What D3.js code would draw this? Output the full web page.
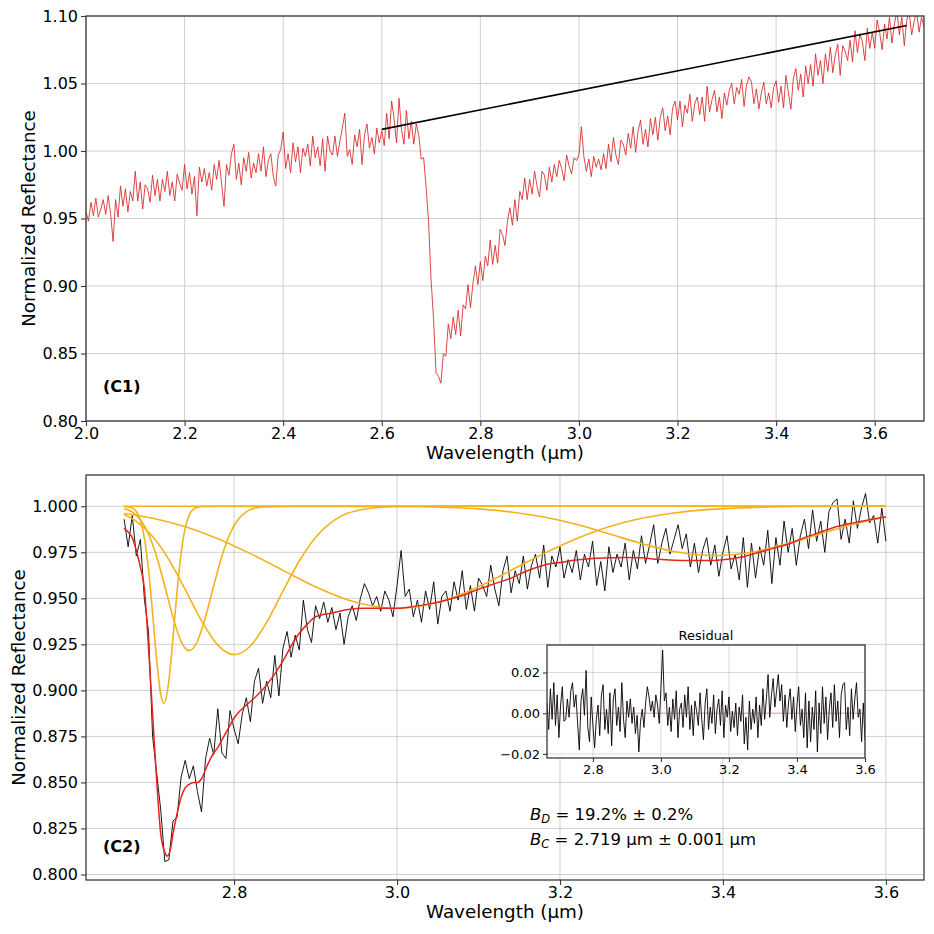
<!DOCTYPE html>
<html><head><meta charset="utf-8">
<script src="https://cdn.jsdelivr.net/npm/d3@7"></script>
<style>body{margin:0;background:#fff} text{font-family:"DejaVu Sans",sans-serif;fill:#000}</style>
</head><body>
<svg id="c" width="934" height="934"></svg>
<script>
// ---------------- DATA ----------------
// Panel C1: reflectance spectrum, sampled every 0.005 um from 2.000 to 3.700 um
const topStart = 2.0, topStep = 0.005;
const topRefl = [
0.955,0.948,0.962,0.952,0.965,0.951,0.957,0.964,0.953,0.967,
0.953,0.933,0.964,0.951,0.974,0.959,0.972,0.955,0.970,0.963,
0.985,0.963,0.977,0.957,0.975,0.972,0.962,0.982,0.967,0.979,
0.963,0.979,0.970,0.985,0.967,0.977,0.963,0.983,0.976,0.971,
0.990,0.972,0.984,0.968,0.981,0.952,0.988,0.977,0.987,0.974,
0.984,0.971,0.990,0.979,0.993,0.976,0.959,0.990,0.982,0.998,
1.005,0.979,0.991,0.975,0.995,0.985,0.999,0.980,0.991,0.984,
0.998,0.985,1.003,0.981,0.993,0.998,0.981,0.974,0.997,1.001,
1.014,0.987,0.998,0.984,1.006,0.992,1.003,0.984,1.002,0.996,
1.005,0.989,1.011,0.995,1.003,0.989,1.009,0.985,1.011,1.000,
0.997,1.011,0.996,1.007,1.017,1.028,0.996,1.001,0.990,1.012,
1.003,1.016,0.990,1.012,1.020,1.002,1.010,0.998,1.017,1.006,
1.015,1.004,1.028,1.009,1.037,1.024,1.006,1.039,1.016,1.005,
1.030,1.009,1.022,1.005,1.020,1.012,0.994,0.995,0.973,0.947,
0.905,0.876,0.836,0.833,0.828,0.850,0.848,0.872,0.861,0.877,
0.864,0.882,0.863,0.886,0.883,0.901,0.884,0.902,0.915,0.901,
0.918,0.904,0.922,0.915,0.934,0.916,0.930,0.917,0.942,0.938,
0.930,0.948,0.958,0.945,0.964,0.948,0.970,0.964,0.980,0.964,
0.979,0.968,0.985,0.974,0.966,0.985,0.982,0.971,0.988,0.977,
0.990,0.981,0.993,0.987,0.978,0.997,0.989,0.983,0.995,0.993,
0.997,1.018,0.996,0.985,0.994,0.981,0.996,0.988,0.994,0.986,
0.998,0.987,1.005,0.992,1.010,0.997,0.990,1.008,1.005,0.997,
1.013,1.002,1.018,0.999,1.015,1.023,1.005,1.016,1.003,1.024,
1.012,1.025,1.008,1.025,1.032,1.015,1.026,1.012,1.032,1.037,
1.023,1.037,1.018,1.034,1.028,1.042,1.022,1.035,1.040,1.027,
1.040,1.022,1.048,1.029,1.038,1.045,1.029,1.040,1.024,1.043,
1.034,1.045,1.050,1.035,1.047,1.042,1.053,1.033,1.049,1.055,
1.051,1.035,1.046,1.031,1.043,1.051,1.035,1.043,1.032,1.047,
1.052,1.036,1.048,1.032,1.056,1.043,1.031,1.054,1.061,1.045,
1.057,1.040,1.063,1.050,1.064,1.048,1.072,1.056,1.067,1.050,
1.072,1.059,1.077,1.058,1.071,1.079,1.056,1.078,1.074,1.067,
1.082,1.066,1.089,1.073,1.087,1.081,1.067,1.091,1.076,1.088,
1.076,1.097,1.088,1.075,1.094,1.083,1.099,1.080,1.094,1.104,
1.086,1.099,1.078,1.097,1.103,1.086,1.096,1.104,1.088,1.099,
1.092];
// Continuum (black line in C1)
const contWave = [2.600, 3.665];
const contRefl = [1.016, 1.093];

// Panel C2: continuum-removed spectrum, every 0.005 um from 2.665 to 3.600 um
const botStart = 2.665, botStep = 0.005;
const botRefl = [
0.993,0.978,0.995,0.973,0.982,0.949,0.932,0.875,0.855,0.835,
0.807,0.808,0.829,0.831,0.853,0.862,0.852,0.859,0.845,0.834,
0.863,0.874,0.865,0.890,0.866,0.863,0.889,0.879,0.871,0.887,
0.896,0.883,0.905,0.912,0.893,0.905,0.896,0.919,0.897,0.923,
0.932,0.918,0.930,0.922,0.949,0.933,0.926,0.946,0.939,0.948,
0.937,0.945,0.933,0.942,0.925,0.940,0.946,0.938,0.950,0.958,
0.953,0.946,0.951,0.943,0.954,0.949,0.940,0.957,0.976,0.951,
0.955,0.940,0.949,0.937,0.954,0.944,0.959,0.936,0.951,0.954,
0.943,0.959,0.949,0.965,0.944,0.957,0.943,0.961,0.957,0.951,
0.968,0.955,0.946,0.965,0.973,0.953,0.965,0.958,0.973,0.955,
0.968,0.974,0.961,0.979,0.956,0.973,0.967,0.978,0.961,0.971,
0.964,0.976,0.960,0.974,0.967,0.981,0.957,0.970,0.954,0.978,
0.964,0.974,0.967,0.980,0.960,0.976,0.966,0.984,0.969,0.979,
0.990,0.969,0.980,0.988,0.974,0.982,0.990,0.977,0.985,0.967,
0.980,0.964,0.976,0.983,0.968,0.979,0.962,0.975,0.984,0.966,
0.974,0.960,0.983,0.956,0.980,0.961,0.978,0.968,0.987,0.958,
0.983,0.968,0.992,0.975,0.988,0.968,0.984,0.993,0.977,0.998,
0.981,0.992,0.975,0.997,1.002,1.004,0.982,0.993,0.980,1.003,
0.988,0.999,1.007,0.991,0.995,0.980,0.999,0.981];
// Residual (inset), same wavelength grid as C2
const residual = [
0.005,-0.008,0.012,-0.003,0.015,-0.006,0.009,-0.012,0.004,0.013,
-0.004,-0.003,0.007,-0.002,0.011,0.015,0.003,0.009,-0.005,-0.018,
0.006,0.012,-0.001,0.021,-0.007,-0.014,0.008,-0.006,-0.017,-0.003,
0.004,-0.011,0.009,0.014,-0.008,0.002,-0.010,0.010,-0.016,0.007,
0.012,-0.006,0.003,-0.009,0.015,-0.003,-0.012,0.006,-0.002,0.007,
-0.005,0.003,-0.010,-0.001,-0.019,-0.004,0.002,-0.007,0.005,0.013,
0.008,0.001,0.006,-0.002,0.009,0.004,-0.005,0.012,0.031,0.006,
0.010,-0.006,0.003,-0.009,0.007,-0.003,0.011,-0.012,0.002,0.005,
-0.007,0.009,-0.002,0.013,-0.008,0.004,-0.011,0.006,0.001,-0.006,
0.010,-0.003,-0.013,0.005,0.012,-0.008,0.003,-0.005,0.009,-0.010,
0.002,0.007,-0.006,0.011,-0.012,0.004,-0.002,0.008,-0.009,0.001,
-0.007,0.005,-0.011,0.003,-0.004,0.009,-0.015,-0.002,-0.018,0.006,
-0.008,0.002,-0.005,0.008,-0.012,0.004,-0.006,0.012,-0.003,0.007,
0.019,-0.002,0.009,0.017,0.003,0.011,0.019,0.006,0.014,-0.004,
0.009,-0.007,0.005,0.012,-0.003,0.008,-0.009,0.004,0.013,-0.006,
0.002,-0.012,0.010,-0.017,0.006,-0.014,0.003,-0.008,0.011,-0.019,
0.005,-0.010,0.013,-0.005,0.008,-0.013,0.002,0.010,-0.007,0.014,
-0.004,0.006,-0.012,0.009,0.014,0.015,-0.008,0.003,-0.011,0.012,
-0.003,0.007,0.015,-0.002,0.002,-0.014,0.005,-0.013];

// Fitted model (red) in C2
const modelWave = [2.665,2.670,2.675,2.680,2.685,2.690,2.695,2.700,2.705,2.710,2.715,2.718,2.722,2.725,2.730,2.735,2.740,2.745,2.750,2.755,2.760,2.765,2.770,2.775,2.780,2.785,2.790,2.795,2.800,2.810,2.820,2.830,2.840,2.850,2.860,2.870,2.880,2.890,2.900,2.920,2.940,2.960,2.980,3.000,3.020,3.040,3.060,3.080,3.100,3.120,3.140,3.160,3.180,3.200,3.220,3.240,3.260,3.280,3.300,3.320,3.340,3.360,3.380,3.400,3.420,3.440,3.460,3.480,3.500,3.520,3.540,3.560,3.580,3.600];
const modelRefl = [0.988,0.986,0.983,0.976,0.967,0.955,0.923,0.887,0.851,0.822,0.812,0.810,0.814,0.822,0.833,0.842,0.847,0.849,0.850,0.850,0.852,0.857,0.862,0.866,0.869,0.873,0.877,0.881,0.885,0.890,0.894,0.898,0.903,0.909,0.916,0.924,0.931,0.936,0.940,0.942,0.944,0.9446,0.9446,0.9446,0.9455,0.947,0.949,0.9515,0.955,0.958,0.961,0.965,0.968,0.9695,0.9708,0.9716,0.972,0.9722,0.972,0.9712,0.9707,0.9705,0.9705,0.971,0.9722,0.9745,0.977,0.9795,0.983,0.986,0.989,0.991,0.9927,0.9942];

// Individual absorption bands (orange) in C2
const band1Wave = [2.665,2.675,2.680,2.685,2.690,2.695,2.700,2.705,2.710,2.7138,2.720,2.725,2.730,2.735,2.740,2.745,2.750,2.760,2.780,3.600];
const band1Refl = [1.000,0.9991,0.9972,0.9925,0.9826,0.9655,0.9418,0.9165,0.8978,0.893,0.9054,0.9284,0.9538,0.9746,0.9881,0.9952,0.9984,0.9999,1.000,1.000];
const band2Wave = [2.665,2.675,2.685,2.695,2.705,2.715,2.725,2.735,2.745,2.755,2.765,2.775,2.785,2.795,2.805,2.815,2.825,2.840,2.870,3.600];
const band2Refl = [0.9988,0.9969,0.9927,0.9849,0.9726,0.9566,0.9397,0.9265,0.9216,0.9267,0.9400,0.9569,0.9729,0.9851,0.9928,0.9970,0.9989,0.9998,1.000,1.000];
const band3Wave = [2.665,2.680,2.700,2.720,2.740,2.760,2.780,2.800,2.820,2.840,2.860,2.880,2.900,2.920,2.940,2.960,2.980,3.020,3.600];
const band3Refl = [0.9955,0.9918,0.9836,0.9710,0.9548,0.9378,0.9246,0.9194,0.9241,0.9370,0.9539,0.9703,0.9831,0.9915,0.9963,0.9985,0.9995,1.000,1.000];
const band4Wave = [2.665,2.700,2.740,2.780,2.820,2.860,2.900,2.940,2.970,3.000,3.030,3.060,3.100,3.140,3.180,3.220,3.260,3.300,3.340,3.380,3.440,3.500,3.600];
const band4Refl = [0.9961,0.9935,0.9889,0.9824,0.9743,0.9652,0.9563,0.9491,0.9458,0.9446,0.9458,0.9491,0.9563,0.9652,0.9743,0.9824,0.9889,0.9935,0.9964,0.9982,0.9994,0.9999,1.000];
const band5Wave = [2.665,3.000,3.060,3.100,3.140,3.180,3.220,3.260,3.300,3.340,3.390,3.440,3.480,3.520,3.560,3.600];
const band5Refl = [1.000,0.9999,0.9994,0.9986,0.9969,0.9942,0.9902,0.9851,0.9798,0.9754,0.9732,0.9754,0.9798,0.9851,0.9902,0.9942];

// Ticks
const topXTicks = [2.0,2.2,2.4,2.6,2.8,3.0,3.2,3.4,3.6];
const topYTicks = [0.80,0.85,0.90,0.95,1.00,1.05,1.10];
const botXTicks = [2.8,3.0,3.2,3.4,3.6];
const botYTicks = [0.800,0.825,0.850,0.875,0.900,0.925,0.950,0.975,1.000];
const insXTicks = [2.8,3.0,3.2,3.4,3.6];
const insYTicks = [-0.02,0.00,0.02];

// ---------------- DRAW ----------------
const svg = d3.select('#c');
const topWave = topRefl.map((_, i) => topStart + i * topStep);
const botWave = botRefl.map((_, i) => botStart + i * botStep);
const zip = (w, v) => w.map((d, i) => [d, v[i]]);

const GRID = '#cfcfcf', SPINE = '#3a3a3a';
const ORANGE = '#f5b21c', RED = '#e3241f', DRED = '#d62728';
const LABEL_FS = 18.3;

function panel(o) {
  const g = svg.append('g');
  const {x, y, L, T, R, B} = o;
  const gg = g.append('g');
  o.xt.forEach(t => gg.append('line').attr('x1', x(t)).attr('x2', x(t)).attr('y1', T).attr('y2', B)
    .attr('stroke', GRID).attr('stroke-width', o.gw || 1));
  o.yt.forEach(t => gg.append('line').attr('x1', L).attr('x2', R).attr('y1', y(t)).attr('y2', y(t))
    .attr('stroke', GRID).attr('stroke-width', o.gw || 1));
  const id = 'clip' + Math.round(L) + '_' + Math.round(T);
  g.append('clipPath').attr('id', id).append('rect').attr('x', L).attr('y', T).attr('width', R - L).attr('height', B - T);
  const plot = g.append('g').attr('clip-path', `url(#${id})`);
  const ax = g.append('g').attr('transform', `translate(0,${B})`)
    .call(d3.axisBottom(x).tickValues(o.xt).tickFormat(d3.format(o.xf)).tickSize(o.ts).tickPadding(o.tp));
  const ay = g.append('g').attr('transform', `translate(${L},0)`)
    .call(d3.axisLeft(y).tickValues(o.yt).tickFormat(d3.format(o.yf)).tickSize(o.ts).tickPadding(o.tpy));
  [ax, ay].forEach(a => {
    a.select('.domain').remove();
    a.selectAll('line').attr('stroke', SPINE).attr('stroke-width', 1.1);
    a.selectAll('text').attr('font-size', o.fs).attr('font-family', '"DejaVu Sans",sans-serif').attr('fill', '#000');
  });
  g.append('rect').attr('x', L).attr('y', T).attr('width', R - L).attr('height', B - T)
    .attr('fill', 'none').attr('stroke', SPINE).attr('stroke-width', 1.3);
  return {g, plot};
}

function line(plot, x, y, data, color, width, curve) {
  const gen = d3.line().x(d => x(d[0])).y(d => y(d[1]));
  if (curve) gen.curve(curve);
  return plot.append('path').datum(data).attr('d', gen).attr('fill', 'none')
    .attr('stroke', color).attr('stroke-width', width).attr('stroke-linejoin', 'round');
}

// ---- Panel C1 ----
{
  const L = 86, T = 16, R = 924, B = 421;
  const x = d3.scaleLinear().domain([2.0, 3.7]).range([L, R]);
  const y = d3.scaleLinear().domain([0.80, 1.10]).range([B, T]);
  const p = panel({x, y, L, T, R, B, xt: topXTicks, yt: topYTicks, xf: '.1f', yf: '.2f', ts: 5, tp: 2, tpy: 3, fs: 16});
  line(p.plot, x, y, zip(topWave, topRefl), DRED, 0.85);
  line(p.plot, x, y, zip(contWave, contRefl), '#000', 1.6);
  p.g.append('text').attr('x', 103).attr('y', 392).attr('font-size', 16).attr('font-weight', 'bold').text('(C1)');
  p.g.append('text').attr('x', (L + R) / 2).attr('y', 459).attr('text-anchor', 'middle').attr('font-size', LABEL_FS).text('Wavelength (µm)');
  p.g.append('text').attr('transform', `translate(35,${(T + B) / 2}) rotate(-90)`).attr('text-anchor', 'middle').attr('font-size', LABEL_FS).text('Normalized Reflectance');
}

// ---- Panel C2 ----
{
  const L = 86, T = 475, R = 924, B = 880;
  const xr = d3.extent(botWave), xs = xr[1] - xr[0];
  const allY = botRefl.concat(modelRefl, band1Refl, band2Refl, band3Refl, band4Refl, band5Refl);
  const yr = d3.extent(allY), ys = yr[1] - yr[0];
  const x = d3.scaleLinear().domain([xr[0] - 0.05 * xs, xr[1] + 0.05 * xs]).range([L, R]);
  const y = d3.scaleLinear().domain([yr[0] - 0.05 * ys, yr[1] + 0.05 * ys]).range([B, T]);
  const p = panel({x, y, L, T, R, B, xt: botXTicks, yt: botYTicks, xf: '.1f', yf: '.3f', ts: 5, tp: 2, tpy: 3, fs: 16});
  line(p.plot, x, y, zip(botWave, botRefl), '#000', 0.9);
  [[band1Wave, band1Refl], [band2Wave, band2Refl], [band3Wave, band3Refl], [band4Wave, band4Refl], [band5Wave, band5Refl]]
    .forEach(b => line(p.plot, x, y, zip(b[0], b[1]), ORANGE, 1.6, d3.curveMonotoneX));
  line(p.plot, x, y, zip(modelWave, modelRefl), RED, 1.5, d3.curveMonotoneX);
  p.g.append('text').attr('x', 103).attr('y', 852).attr('font-size', 16).attr('font-weight', 'bold').text('(C2)');
  p.g.append('text').attr('x', (L + R) / 2).attr('y', 918).attr('text-anchor', 'middle').attr('font-size', LABEL_FS).text('Wavelength (µm)');
  p.g.append('text').attr('transform', `translate(25,${(T + B) / 2}) rotate(-90)`).attr('text-anchor', 'middle').attr('font-size', LABEL_FS).text('Normalized Reflectance');

  const t1 = p.g.append('text').attr('x', 530).attr('y', 820).attr('font-size', 16.5);
  t1.append('tspan').attr('font-style', 'italic').text('B');
  t1.append('tspan').attr('font-style', 'italic').attr('font-size', 11.5).attr('dy', 3).text('D');
  t1.append('tspan').attr('dy', -3).text(' = 19.2% ± 0.2%');
  const t2 = p.g.append('text').attr('x', 530).attr('y', 845).attr('font-size', 16.5);
  t2.append('tspan').attr('font-style', 'italic').text('B');
  t2.append('tspan').attr('font-style', 'italic').attr('font-size', 11.5).attr('dy', 3).text('C');
  t2.append('tspan').attr('dy', -3).text(' = 2.719 µm ± 0.001 µm');
}

// ---- Inset: residual ----
{
  const L = 547, T = 645, R = 865, B = 758;
  svg.append('rect').attr('x', L).attr('y', T).attr('width', R - L).attr('height', B - T).attr('fill', '#fff');
  const x = d3.scaleLinear().domain(d3.extent(botWave)).range([L, R]);
  const yr = d3.extent(residual), ys = yr[1] - yr[0];
  const y = d3.scaleLinear().domain([yr[0] - 0.06 * ys, yr[1] + 0.05 * ys]).range([B, T]);
  const p = panel({x, y, L, T, R, B, xt: insXTicks, yt: insYTicks, xf: '.1f', yf: '.2f', ts: 4, tp: 3, tpy: 3, fs: 13, gw: 0.8});
  line(p.plot, x, y, zip(botWave, residual), '#000', 0.9);
  p.plot.append('line').attr('x1', L).attr('x2', R).attr('y1', y(0)).attr('y2', y(0))
    .attr('stroke', '#ff0000').attr('stroke-opacity', 0.3).attr('stroke-width', 1);
  p.g.append('text').attr('x', (L + R) / 2).attr('y', 640).attr('text-anchor', 'middle').attr('font-size', 13).text('Residual');
}
</script>
</body></html>
